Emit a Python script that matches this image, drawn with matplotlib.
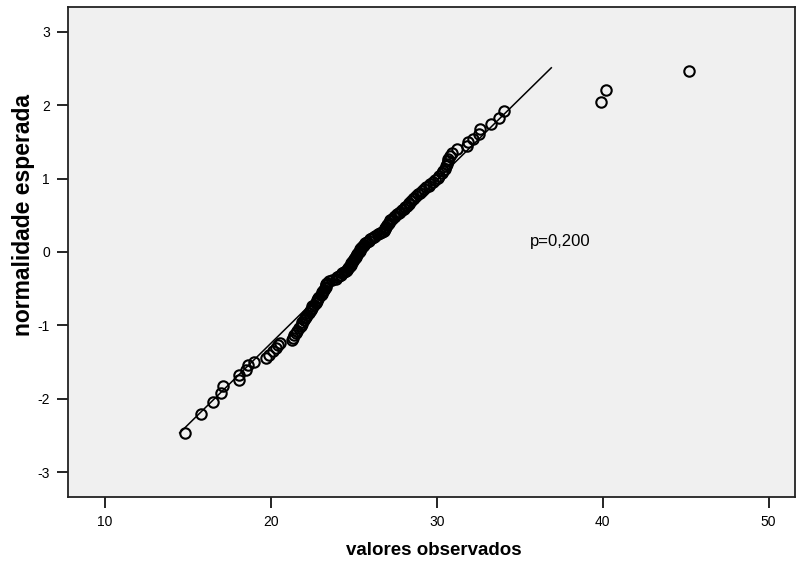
import matplotlib
matplotlib.use("Agg")
import matplotlib.pyplot as plt

plt.rcParams["axes.unicode_minus"] = False

obs = [14.8, 15.8, 16.5, 17.0, 17.1, 18.1, 18.1, 18.5, 18.6, 19.0,
       19.7, 19.9, 20.1, 20.3, 20.45, 20.55, 21.3, 21.35, 21.4, 21.5,
       21.6, 21.7, 21.8, 21.85, 21.9, 22.0, 22.05, 22.1, 22.2, 22.3,
       22.35, 22.4, 22.45, 22.5, 22.6, 22.7, 22.75, 22.8, 22.85, 22.9,
       23.0, 23.05, 23.1, 23.15, 23.2, 23.25, 23.3, 23.35, 23.35, 23.4,
       23.5, 23.7, 23.9, 24.0, 24.1, 24.2, 24.3, 24.4, 24.5, 24.6,
       24.65, 24.7, 24.75, 24.8, 24.85, 24.9, 24.95, 25.0, 25.05, 25.1,
       25.15, 25.2, 25.25, 25.3, 25.35, 25.4, 25.45, 25.5, 25.55, 25.6,
       25.7, 25.8, 25.9, 26.0, 26.1, 26.2, 26.3, 26.45, 26.6, 26.7,
       26.8, 26.85, 26.9, 26.95, 27.0, 27.05, 27.1, 27.15, 27.2, 27.3,
       27.4, 27.5, 27.6, 27.7, 27.8, 27.9, 28.0, 28.1, 28.2, 28.3,
       28.35, 28.45, 28.55, 28.65, 28.75, 28.85, 29.0, 29.1, 29.2, 29.35,
       29.5, 29.6, 29.75, 29.9, 30.05, 30.15, 30.3, 30.4, 30.5, 30.55,
       30.6, 30.65, 30.7, 30.8, 30.9, 31.2, 31.8, 31.9, 32.2, 32.55,
       32.6, 33.25, 33.75, 34.05, 39.9, 40.2, 45.2]

# expected normal scores (lower half, mirrored for the upper half)
z_low = [-2.471, -2.211, -2.048, -1.926, -1.827, -1.744, -1.671, -1.607, -1.547, -1.494,
         -1.444, -1.398, -1.354, -1.313, -1.274, -1.236, -1.201, -1.167, -1.134, -1.102,
         -1.072, -1.042, -1.013, -0.985, -0.958, -0.932, -0.906, -0.880, -0.856, -0.832,
         -0.808, -0.785, -0.762, -0.740, -0.718, -0.696, -0.674, -0.653, -0.633, -0.612,
         -0.592, -0.572, -0.552, -0.532, -0.513, -0.493, -0.474, -0.456, -0.437, -0.418,
         -0.400, -0.382, -0.364, -0.346, -0.328, -0.310, -0.292, -0.275, -0.257, -0.240,
         -0.222, -0.205, -0.188, -0.171, -0.153, -0.136, -0.119, -0.102, -0.085, -0.068,
         -0.051, -0.034, -0.017]
expected = z_low + [0.0] + [-v for v in reversed(z_low)]

# reference normal line
MEAN = 25.6
SD = 4.5
line_x = [14.5, 36.9]
line_y = [(x - MEAN) / SD for x in line_x]

FONT = "Liberation Sans"

fig = plt.figure(figsize=(7.96, 5.65), dpi=100)
ax = fig.add_axes([0.0854, 0.1204, 0.9136, 0.8672])
ax.set_facecolor("#f0f0f0")

ax.plot(line_x, line_y, color="black", lw=1.1, zorder=2)
ax.plot(obs, expected, linestyle="none", marker="o", ms=7.5,
        mfc="none", mec="black", mew=1.5, zorder=3)

ax.text(35.6, 0.14, "p=0,200", fontsize=12, family=FONT, va="center", ha="left")

ax.set_xlim(7.77, 51.6)
ax.set_ylim(-3.34, 3.34)
ax.set_xticks([10, 20, 30, 40, 50])
ax.set_yticks([-3, -2, -1, 0, 1, 2, 3])
ax.tick_params(direction="out", length=8, width=1.2, labelsize=10, pad=5)
for lab in ax.get_xticklabels() + ax.get_yticklabels():
    lab.set_family(FONT)

for s in ax.spines.values():
    s.set_linewidth(1.3)
    s.set_color("#222222")

ax.set_xlabel("valores observados", fontsize=13.5, fontweight="bold", family=FONT)
ax.set_ylabel("normalidade esperada", fontsize=16.5, fontweight="bold", family=FONT)
ax.xaxis.set_label_coords(0.503, -0.092)
ax.yaxis.set_label_coords(-0.045, 0.575)

fig.savefig("out.png", dpi=100)
